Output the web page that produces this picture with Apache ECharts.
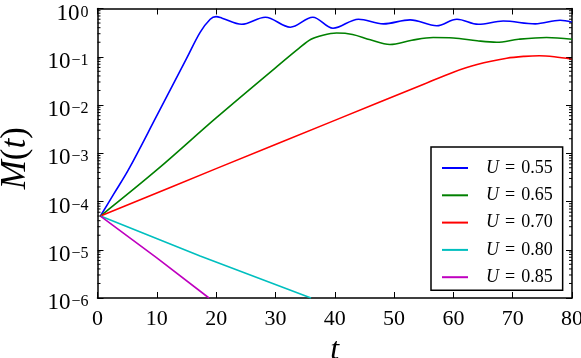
<!DOCTYPE html>
<html>
<head>
<meta charset="utf-8">
<script src="https://cdn.jsdelivr.net/npm/echarts@6/dist/echarts.min.js"></script>
<style>
  html, body { margin: 0; padding: 0; background: #fff; }
  #chart { width: 581px; height: 358px; }
</style>
</head>
<body>
<div id="chart"></div>
<script>
// values (t, M(t))
const tBlue = [0.5, 2.7, 5.2, 10, 15, 17.3, 19, 20, 21, 24.3, 28.3, 32.5, 36.3, 39.7, 44, 48.2, 52.7, 57.2, 60.6, 64.2, 68.4, 73.8, 78, 80];
const mBlue = [5e-5, 1.4e-4, 4.5e-4, 6.0e-3, 0.091, 0.32, 0.6, 0.68, 0.63, 0.47, 0.66, 0.41, 0.66, 0.39, 0.6, 0.48, 0.58, 0.44, 0.6, 0.47, 0.55, 0.48, 0.57, 0.52];

const tGreen = [0.5, 10, 20, 30, 34, 36, 38, 40.3, 43, 46, 49.3, 53, 56.6, 60, 64, 67.3, 71, 75.7, 80];
const mGreen = [5e-5, 4.5e-4, 5.4e-3, 0.059, 0.151, 0.23, 0.28, 0.31, 0.29, 0.224, 0.18, 0.22, 0.25, 0.245, 0.214, 0.2, 0.23, 0.25, 0.23];

const tRed = [0.5, 20, 40, 55, 60, 64, 69, 72, 74.5, 77, 80];
const mRed = [5e-5, 4.8e-4, 4.8e-3, 0.027, 0.048, 0.069, 0.093, 0.102, 0.105, 0.1, 0.089];

const tCyan = [0.5, 17.3, 36];
const mCyan = [5e-5, 7.4e-6, 1e-6];

const tMagenta = [0.5, 10, 18.8];
const mMagenta = [5e-5, 6.8e-6, 1e-6];

const labels = ['U = 0.55', 'U = 0.65', 'U = 0.70', 'U = 0.80', 'U = 0.85'];
const colors = ['#0000ff', '#008000', '#ff0000', '#00bfbf', '#bf00bf'];

const xTicks = [0, 10, 20, 30, 40, 50, 60, 70, 80];

// minor tick positions on the log axis: 2..9 x 10^k
const minorTicks = [];
for (let k = -6; k < 0; k++) {
  for (let m = 2; m <= 9; m++) minorTicks.push(m * Math.pow(10, k));
}

const FONT = 'Liberation Serif';

const pairs = (ts, ms) => ts.map((t, i) => [t, ms[i]]);
const seriesData = [
  pairs(tBlue, mBlue),
  pairs(tGreen, mGreen),
  pairs(tRed, mRed),
  pairs(tCyan, mCyan),
  pairs(tMagenta, mMagenta)
];

const chart = echarts.init(document.getElementById('chart'), null, { renderer: 'canvas' });

const xCommon = {
  type: 'value',
  min: xTicks[0],
  max: xTicks[xTicks.length - 1],
  interval: 10,
  axisLine: { show: true, onZero: false, lineStyle: { color: '#000', width: 1.5 } },
  axisTick: { show: true, inside: true, length: 6, lineStyle: { color: '#000', width: 1 } },
  splitLine: { show: false }
};

const yCommon = {
  type: 'log',
  logBase: 10,
  min: 1e-6,
  max: 1,
  axisLine: { show: true, onZero: false, lineStyle: { color: '#000', width: 1.5 } },
  axisTick: { show: true, inside: true, length: 6, lineStyle: { color: '#000', width: 1 } },
  splitLine: { show: false }
};

const option = {
  backgroundColor: '#fff',
  animation: false,
  textStyle: { fontFamily: FONT, color: '#000' },
  grid: { left: 97.5, right: 9, top: 8.5, bottom: 60, containLabel: false, outerBoundsMode: 'none' },
  xAxis: [
    Object.assign({}, xCommon, {
      position: 'bottom',
      name: 't',
      nameLocation: 'middle',
      nameGap: 36,
      nameTextStyle: { fontFamily: FONT, fontSize: 32, fontStyle: 'italic', fontWeight: 'normal', color: '#000' },
      axisLabel: { show: true, margin: 10, color: '#000', fontFamily: FONT, fontWeight: 'normal', fontSize: 22 }
    }),
    Object.assign({}, xCommon, {
      position: 'top',
      axisLabel: { show: false }
    })
  ],
  yAxis: [
    Object.assign({}, yCommon, {
      position: 'left',
      name: '{i|M}{n|(}{i|t}{n|)}',
      nameLocation: 'middle',
      nameGap: 64,
      nameRotate: 90,
      nameTextStyle: {
        fontFamily: FONT, fontSize: 35, fontWeight: 'normal', color: '#000',
        padding: [0, 10, 0, 0],
        rich: {
          i: { fontFamily: FONT, fontSize: 35, fontStyle: 'italic', fontWeight: 'normal', color: '#000' },
          n: { fontFamily: FONT, fontSize: 35, fontWeight: 'normal', color: '#000' }
        }
      },
      axisLabel: {
        show: true,
        margin: 9,
        color: '#000',
        fontFamily: FONT,
        fontWeight: 'normal',
        formatter: v => {
          const e = Math.round(Math.log10(v));
          return '{b|10}{s|' + (e < 0 ? '\u2212' + (-e) : String(e)) + '}';
        },
        rich: {
          b: { fontFamily: FONT, fontSize: 23, fontWeight: 'normal', color: '#000', lineHeight: 30, padding: [10, 0, 0, 0] },
          s: { fontFamily: FONT, fontSize: 16, fontWeight: 'normal', color: '#000', verticalAlign: 'top', lineHeight: 15, padding: [11, 0, 0, 1] }
        }
      }
    }),
    Object.assign({}, yCommon, {
      position: 'right',
      axisLabel: { show: false }
    })
  ],
  legend: {
    data: labels,
    orient: 'vertical',
    left: 431,
    top: 147,
    backgroundColor: '#fff',
    borderColor: '#000',
    borderWidth: 1.5,
    borderRadius: 0,
    padding: [11, 10, 3, 11],
    itemWidth: 26,
    itemHeight: 2,
    itemGap: 7.3,
    icon: 'rect',
    formatter: name => '{u|U}{e|=}' + name.split('= ')[1],
    textStyle: {
      fontFamily: FONT,
      fontSize: 18,
      color: '#000',
      lineHeight: 20,
      rich: {
        u: { fontFamily: FONT, fontSize: 18, fontStyle: 'italic', color: '#000', padding: [0, 0, 0, 13] },
        e: { fontFamily: FONT, fontSize: 18, color: '#000', padding: [0, 6, 0, 6] }
      }
    }
  },
  series: seriesData.map((d, i) => ({
    name: labels[i],
    type: 'line',
    data: d,
    xAxisIndex: 0,
    yAxisIndex: 0,
    showSymbol: false,
    smooth: i < 3 ? 0.35 : false,
    clip: true,
    z: 3,
    color: colors[i],
    lineStyle: { color: colors[i], width: 1.6 }
  })).concat([{
    type: 'custom',
    name: 'minor',
    silent: true,
    xAxisIndex: 0,
    yAxisIndex: 0,
    clip: false,
    z: 4,
    data: minorTicks.map(v => [0, v]),
    renderItem: (params, api) => {
      const v = api.value(1);
      const l = api.coord([xTicks[0], v]);
      const r = api.coord([xTicks[xTicks.length - 1], v]);
      const style = { stroke: '#000', lineWidth: 1 };
      return {
        type: 'group',
        children: [
          { type: 'line', shape: { x1: l[0], y1: l[1], x2: l[0] + 3, y2: l[1] }, style },
          { type: 'line', shape: { x1: r[0], y1: r[1], x2: r[0] - 3, y2: r[1] }, style }
        ]
      };
    }
  }])
};

chart.setOption(option);
</script>
</body>
</html>
